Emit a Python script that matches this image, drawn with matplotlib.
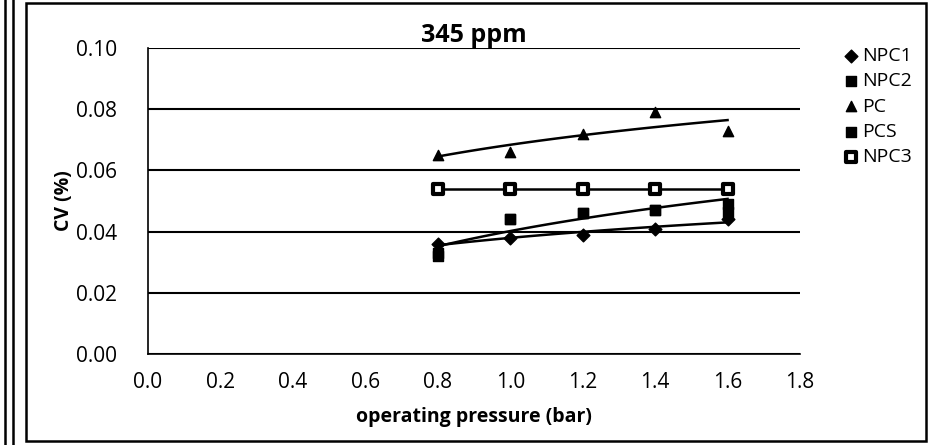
import matplotlib.pyplot as plt
import numpy as np

plt.rcParams['font.family'] = ['Open Sans', 'DejaVu Sans']

pressure = np.array([0.8, 1.0, 1.2, 1.4, 1.6])
npc1 = np.array([0.036, 0.038, 0.039, 0.041, 0.044])
npc2 = np.array([0.032, 0.044, 0.046, 0.047, 0.049])
pc = np.array([0.065, 0.066, 0.072, 0.079, 0.073])
pcs = np.array([0.033, 0.044, 0.046, 0.047, 0.0465])
npc3 = np.array([0.054, 0.054, 0.054, 0.054, 0.054])

series_names = ['NPC1', 'NPC2', 'PC', 'PCS', 'NPC3']
x_ticks = [0.0, 0.2, 0.4, 0.6, 0.8, 1.0, 1.2, 1.4, 1.6, 1.8]
y_ticks = [0.00, 0.02, 0.04, 0.06, 0.08, 0.10]

fig = plt.figure(figsize=(9.29, 4.45), dpi=100)
ax = fig.add_axes([148 / 929, 91 / 445, 652 / 929, 306 / 445])

# markers like the excel chart
ax.scatter(pressure, npc1, marker='D', s=42, color='black', label='NPC1', zorder=3)
ax.scatter(pressure, npc2, marker='s', s=50, color='black', label='NPC2', zorder=3)
ax.scatter(pressure, pc, marker='^', s=55, color='black', label='PC', zorder=3)
ax.scatter(pressure, pcs, marker='s', s=60, color='black', label='PCS', zorder=3)
ax.scatter(pressure, npc3, marker='s', s=60, facecolor='white', edgecolor='black',
           linewidths=3.0, label='NPC3', zorder=3)

# log trendlines
for yy in [npc1, npc2, pc, npc3]:
    a, b = np.polyfit(np.log(pressure), yy, 1)
    xs = np.linspace(pressure[0], pressure[-1], 50)
    ax.plot(xs, a * np.log(xs) + b, color='black', lw=1.8, zorder=2)

ax.set_xlim(0, 1.8)
ax.set_ylim(0, 0.10)
ax.set_xticks(x_ticks)
ax.set_xticklabels(['%.1f' % v for v in x_ticks])
ax.set_yticks(y_ticks)
ax.set_yticklabels(['%.2f' % v for v in y_ticks])
ax.tick_params(length=0, labelsize=15)
ax.tick_params(axis='x', pad=13)
ax.tick_params(axis='y', pad=22)
ax.yaxis.grid(True, color='black', lw=1.5)
ax.set_axisbelow(True)
for s in ['top', 'right']:
    ax.spines[s].set_visible(False)
ax.spines['left'].set_linewidth(1.2)
ax.spines['bottom'].set_linewidth(1.2)

ax.set_title('345 ppm', fontsize=18, fontweight='bold', pad=3)
ax.set_xlabel('operating pressure (bar)', fontsize=14, fontweight='bold', labelpad=10)
ax.set_ylabel('CV (%)', fontsize=14, fontweight='bold', labelpad=2)

ax.legend(loc='upper left', bbox_to_anchor=(834 / 929, 406 / 445), bbox_transform=fig.transFigure,
          frameon=False, fontsize=14, handletextpad=0.05, labelspacing=0.38,
          handlelength=1.0, borderaxespad=0)

# chart frame
fig.add_artist(plt.Rectangle((26 / 929, 4 / 445), 900 / 929, 438 / 445, transform=fig.transFigure,
                             fill=False, lw=1.8, color='black'))
fig.add_artist(plt.Line2D([5 / 929, 5 / 929], [0, 1], transform=fig.transFigure, color='black', lw=1.8))
fig.add_artist(plt.Line2D([13 / 929, 13 / 929], [0, 1], transform=fig.transFigure, color='black', lw=1.8))

fig.savefig('out.png', dpi=100)
